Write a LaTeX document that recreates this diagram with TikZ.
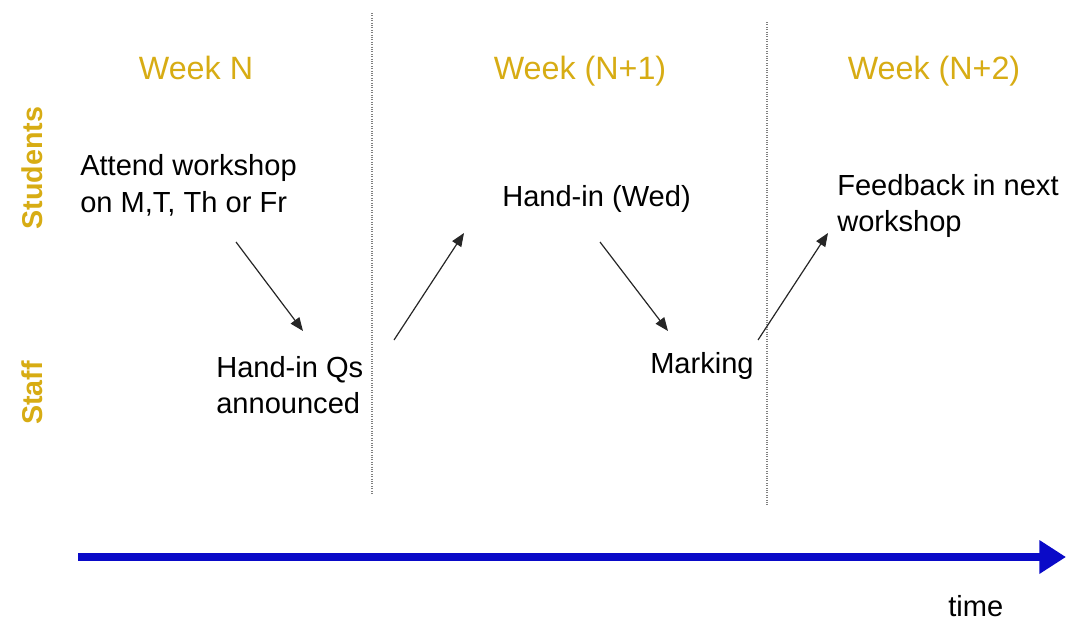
\documentclass[tikz,border=0pt]{standalone}
\usepackage{fontspec}
\setmainfont{Liberation Sans}
\usetikzlibrary{arrows.meta}
\definecolor{weekgold}{RGB}{215,172,20}
\definecolor{timeblue}{RGB}{10,10,200}
\begin{document}
\begin{tikzpicture}[x=0.75pt,y=-0.75pt,
  txt/.style={inner sep=0pt,anchor=west,align=left,font=\fontsize{21.8}{27.5}\selectfont},
  week/.style={inner sep=0pt,anchor=base,text=weekgold,font=\fontsize{24.2}{29}\selectfont},
  role/.style={inner sep=0pt,text=weekgold,rotate=90,font=\fontsize{21.5}{26}\selectfont\bfseries},
  flow/.style={-{Triangle[length=10pt,width=8pt]},line width=0.9pt,draw=black!85},
  divider/.style={densely dotted,draw=black!50,line width=0.8pt}]
\useasboundingbox (0,0) rectangle (1066,621);
% dividers
\coordinate (d1t) at (372,13); \coordinate (d1b) at (372,495);
\coordinate (d2t) at (767,22); \coordinate (d2b) at (767,505);
\draw[divider] (d1t) -- (d1b);
\draw[divider] (d2t) -- (d2b);
% headings
\node[week] (w1) at (196,79) {Week N};
\node[week] (w2) at (580,79) {Week (N+1)};
\node[week] (w3) at (934,79) {Week (N+2)};
\node[role] (stud) at (32,168) {Students};
\node[role] (staff) at (32,393) {Staff};
% texts
\node[txt] (attend) at (80,185) {Attend workshop\\on M,T, Th or Fr};
\node[txt] (qs) at (216,385) {Hand-in Qs\\announced};
\node[txt] (handin) at (502,199) {Hand-in (Wed)};
\node[txt] (marking) at (650,366) {Marking};
\node[txt] (feedback) at (837,206) {Feedback in next\\workshop};
\node[txt,anchor=base west] (time) at (948,616) {time};
% arrows
\coordinate (a1s) at (236,242); \coordinate (a1e) at (303,331);
\coordinate (a2s) at (394,340); \coordinate (a2e) at (464,233);
\coordinate (a3s) at (600,242); \coordinate (a3e) at (668,331);
\coordinate (a4s) at (758,340); \coordinate (a4e) at (828,233);
\draw[flow] (a1s) -- (a1e);
\draw[flow] (a2s) -- (a2e);
\draw[flow] (a3s) -- (a3e);
\draw[flow] (a4s) -- (a4e);
% time axis
\coordinate (ts) at (78,557); \coordinate (te) at (1066,557);
\draw[timeblue,line width=5.5pt,-{Triangle[length=20pt,width=24pt]}] (ts) -- (te);
\end{tikzpicture}
\end{document}
